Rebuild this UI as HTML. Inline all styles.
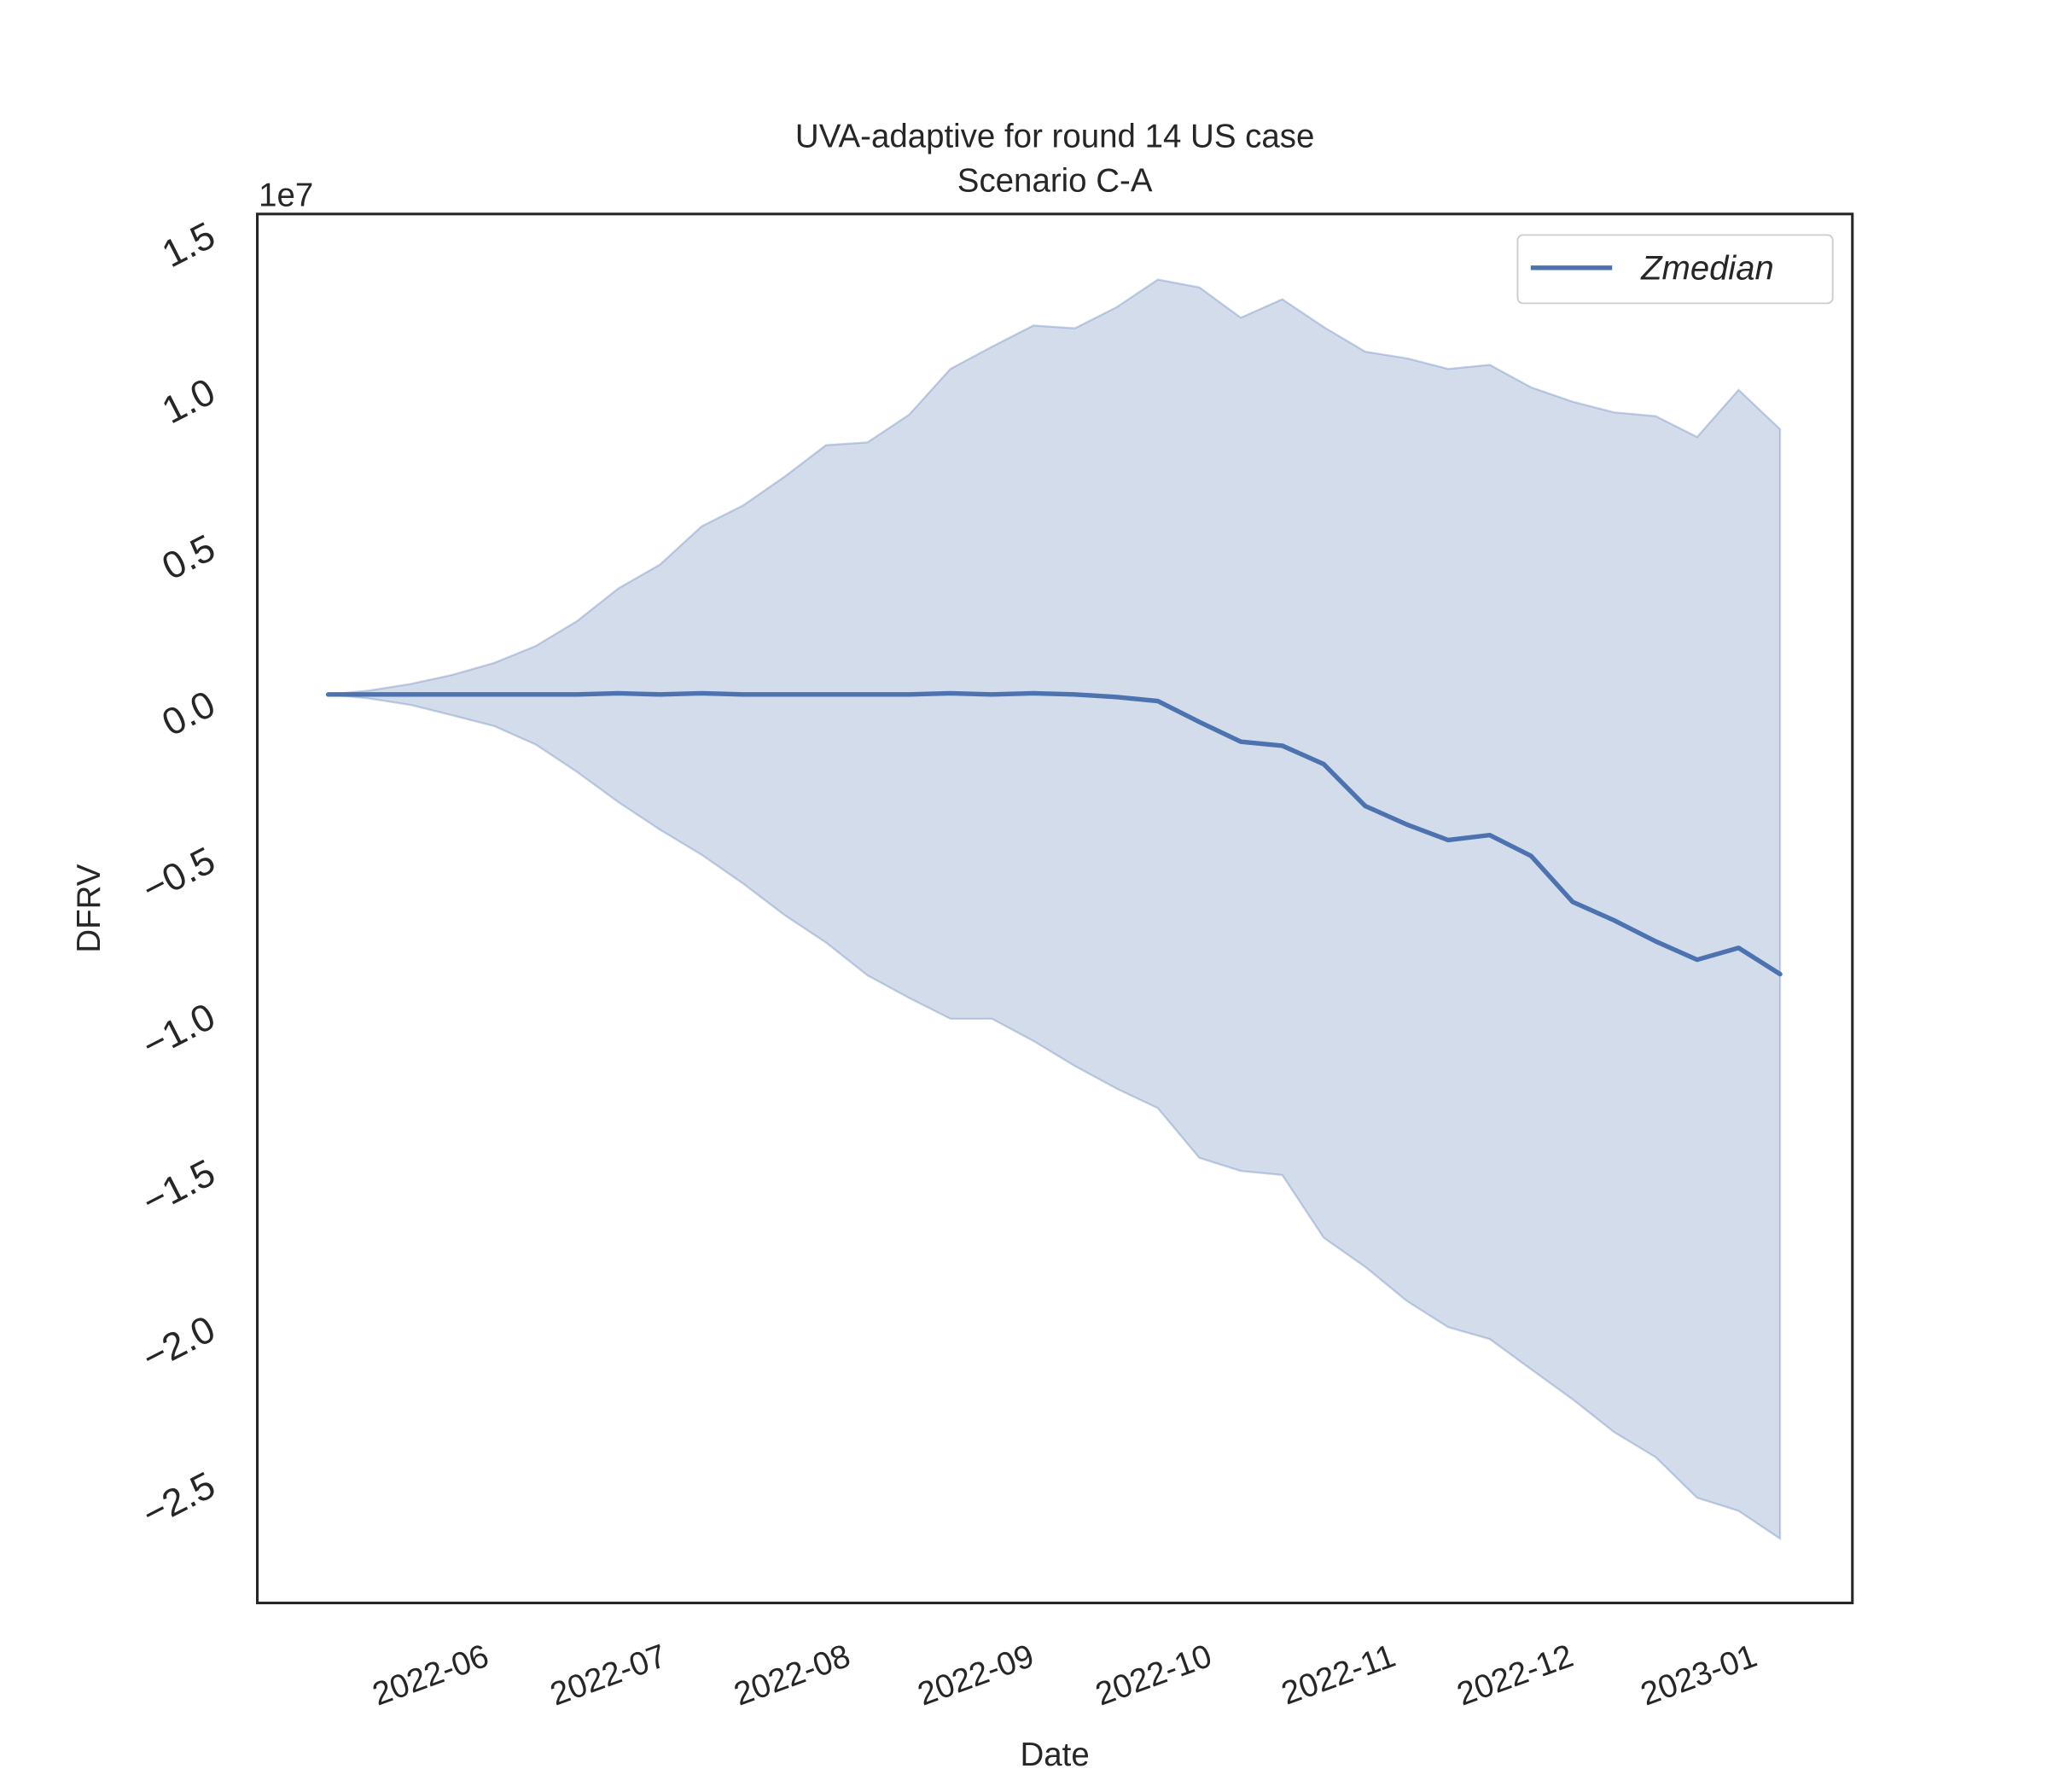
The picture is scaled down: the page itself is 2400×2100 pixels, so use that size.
<!DOCTYPE html>
<html><head><meta charset="utf-8"><style>html,body{margin:0;padding:0;background:#fff}svg{display:block}text{font-family:"Liberation Sans",sans-serif;fill:#262626}</style></head>
<body>
<svg id="chart" width="2400" height="2100" viewBox="0 0 1560 1365" xmlns="http://www.w3.org/2000/svg">
<text x="803.5" y="112" font-size="25" text-anchor="middle">UVA-adaptive for round 14 US case</text>
<text x="803.5" y="146" font-size="25" text-anchor="middle">Scenario C-A</text>
<text x="197" y="157" font-size="25">1e7</text>
<g id="plot"></g>
<g id="yticks"></g>
<g id="xticks"></g>
<rect x="196" y="163" width="1215" height="1058" fill="none" stroke="#262626" stroke-width="2"/>
<text transform="translate(76,692) rotate(-90)" font-size="25" text-anchor="middle">DFRV</text>
<text x="803.5" y="1345" font-size="25" text-anchor="middle">Date</text>
<g>
<rect x="1156" y="179" width="240" height="52" rx="4" fill="#fff" stroke="#cccccc" stroke-width="1.2"/>
<line x1="1166" y1="204" x2="1228" y2="204" stroke="#4c72b0" stroke-width="3.5"/>
<text x="1250" y="213" font-size="26" font-style="italic">Zmedian</text>
</g>
</svg>
<script>
const startDate = "2022-05-05";
const median = [0,0,0,0,0,0,0,0.004,0,0.004,0,0,0,0,0,0.004,0,0.004,0,-0.008,-0.021,-0.088,-0.151,-0.164,-0.223,-0.357,-0.416,-0.466,-0.450,-0.517,-0.664,-0.723,-0.790,-0.849,-0.811,-0.895];
const upper = [0,0.013,0.034,0.063,0.101,0.155,0.235,0.340,0.416,0.538,0.605,0.697,0.798,0.807,0.895,1.042,1.113,1.181,1.172,1.239,1.328,1.303,1.206,1.265,1.176,1.097,1.076,1.042,1.055,0.983,0.937,0.903,0.891,0.824,0.975,0.849];
const lower = [0,-0.013,-0.034,-0.067,-0.101,-0.160,-0.248,-0.345,-0.433,-0.513,-0.605,-0.706,-0.794,-0.899,-0.971,-1.038,-1.038,-1.109,-1.189,-1.261,-1.324,-1.483,-1.525,-1.538,-1.739,-1.832,-1.941,-2.025,-2.063,-2.160,-2.256,-2.361,-2.441,-2.571,-2.613,-2.702];
const yTicks = [1.5,1.0,0.5,0.0,-0.5,-1.0,-1.5,-2.0,-2.5];
const xTickLabels = ["2022-06","2022-07","2022-08","2022-09","2022-10","2022-11","2022-12","2023-01"];

const NS="http://www.w3.org/2000/svg";
const DAY=86400000;
const t0=Date.parse(startDate);
const pxPerDay=4.514;
function X(t){return 250+(t-t0)/DAY*pxPerDay;}
function Y(v){return 529-v*238;}
function dateOf(i){return t0+i*7*DAY;}
const plot=document.getElementById('plot');
let d='';
upper.forEach((v,i)=>{d+=(i?'L':'M')+X(dateOf(i)).toFixed(2)+','+Y(v).toFixed(2);});
for(let i=lower.length-1;i>=0;i--){d+='L'+X(dateOf(i)).toFixed(2)+','+Y(lower[i]).toFixed(2);}
d+='Z';
const band=document.createElementNS(NS,'path');
band.setAttribute('d',d);band.setAttribute('fill','rgba(76,114,176,0.25)');band.setAttribute('stroke','rgba(76,114,176,0.3)');band.setAttribute('stroke-width','1.5');


plot.appendChild(band);
let m='';
median.forEach((v,i)=>{m+=(i?'L':'M')+X(dateOf(i)).toFixed(2)+','+Y(v).toFixed(2);});
const line=document.createElementNS(NS,'path');
line.setAttribute('d',m);line.setAttribute('fill','none');line.setAttribute('stroke','#4c72b0');line.setAttribute('stroke-width','3.5');line.setAttribute('stroke-linecap','round');line.setAttribute('stroke-linejoin','round');


plot.appendChild(line);
const yg=document.getElementById('yticks');
yTicks.forEach(v=>{
  const t=document.createElementNS(NS,'text');
  const y=Y(v)+14;
  t.setAttribute('transform','translate(166,'+y+') rotate(-27)');
  t.setAttribute('font-size','29');t.setAttribute('text-anchor','end');
  t.textContent=(v<0?'\u2212'+Math.abs(v).toFixed(1):v.toFixed(1));
  
  
  yg.appendChild(t);
});
const xg=document.getElementById('xticks');
xTickLabels.forEach(s=>{
  const t=document.createElementNS(NS,'text');
  const x=X(Date.parse(s+'-01'))+2;
  t.setAttribute('transform','translate('+x+',1268) rotate(-20)');
  t.setAttribute('font-size','25');t.setAttribute('text-anchor','end');
  t.textContent=s;
  
  
  xg.appendChild(t);
});
</script>
</body></html>
